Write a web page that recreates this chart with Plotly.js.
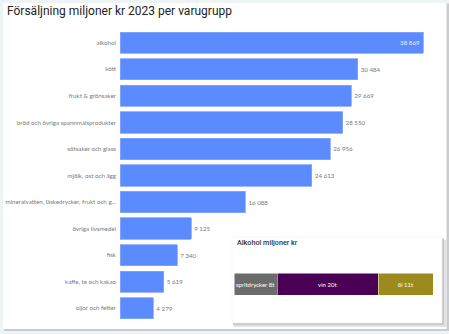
<!DOCTYPE html>
<html>
<head>
<meta charset="utf-8">
<script src="https://cdn.plot.ly/plotly-3.0.1.min.js"></script>
<style>
  html, body { margin: 0; padding: 0; background: #eef3f6; }
  #chart { width: 449px; height: 334px; }
</style>
</head>
<body>
<div id="chart"></div>
<script>
// ---- data ----
const categories = [
  "alkohol",
  "kött",
  "frukt & grönsaker",
  "bröd och övriga spannmålsprodukter",
  "sötsaker och glass",
  "mjölk, ost och ägg",
  "mineralvatten, läskedrycker, frukt och g...",
  "övriga livsmedel",
  "fisk",
  "kaffe, te och kakao",
  "oljor och fetter"
];
const sales = [38869, 30484, 29669, 28550, 26956, 24613, 16088, 9125, 7340, 5619, 4279];

const alcoholTypes = ["spritdrycker", "vin", "öl"];
const alcoholValues = [8.4, 19.8, 10.7];
const alcoholLabels = ["spritdrycker 8t", "vin 20t", "öl 11t"];
const alcoholColors = ["#6b6b6b", "#4a0055", "#9c8a1f"];

// ---- helpers ----
function fmt(v) { return String(v).replace(/\B(?=(\d{3})+(?!\d))/g, "\u00a0"); }
const maxV = Math.max(...sales);
const W = 449, H = 334;
const px = x => x / W;
const py = y => 1 - y / H;

const mainTrace = {
  type: "bar",
  orientation: "h",
  y: categories,
  x: sales,
  xaxis: "x", yaxis: "y",
  width: 0.8,
  marker: { color: "#5b8bff", line: { color: "#86a6ff", width: 0.8 } },
  text: sales.map(fmt),
  textposition: sales.map(v => v === maxV ? "inside" : "outside"),
  insidetextanchor: "end",
  constraintext: "none",
  insidetextfont: { color: "#e8eeff", size: 6.2, family: "Lato" },
  outsidetextfont: { color: "#7a7a7a", size: 6.2, family: "Lato" },
  cliponaxis: false,
  hoverinfo: "x+y"
};

const alcTraces = alcoholTypes.map((t, i) => ({
  type: "bar",
  orientation: "h",
  name: t,
  y: ["alkohol"],
  x: [alcoholValues[i]],
  xaxis: "x2", yaxis: "y2",
  width: 1,
  marker: { color: alcoholColors[i], line: { color: "#ffffff", width: 0.5 } },
  text: [alcoholLabels[i]],
  textposition: "inside",
  insidetextanchor: "middle",
  constraintext: "none",
  textangle: 0,
  insidetextfont: { color: "#ffffff", size: 6, family: "Lato" },
  hoverinfo: "name+x"
}));

const sumAlc = alcoholValues.reduce((a, b) => a + b, 0);

const layout = {
  width: W, height: H,
  margin: { l: 0, r: 0, t: 0, b: 0 },
  paper_bgcolor: "#eef3f6",
  plot_bgcolor: "rgba(0,0,0,0)",
  showlegend: false,
  barmode: "stack",
  font: { family: "Lato", color: "#666666" },
  xaxis: {
    domain: [px(120), px(440)],
    range: [0, maxV * 320 / 303],
    visible: false, fixedrange: true
  },
  yaxis: {
    domain: [py(321.5), py(29.5)],
    type: "category",
    autorange: "reversed",
    showgrid: false, zeroline: false, showline: false,
    ticks: "", ticklabelstandoff: 3,
    tickfont: { size: 6.2, color: "#7a7a7a", family: "Lato" },
    fixedrange: true
  },
  xaxis2: {
    domain: [px(234), px(433.3)],
    range: [0, sumAlc],
    anchor: "y2",
    visible: false, fixedrange: true
  },
  yaxis2: {
    domain: [py(295), py(273)],
    anchor: "x2",
    type: "category",
    visible: false, fixedrange: true
  },
  shapes: [
    { type: "rect", xref: "paper", yref: "paper", x0: px(4), x1: px(449), y0: py(331), y1: py(3.5),
      fillcolor: "#c9cccf", line: { width: 0 }, layer: "below" },
    { type: "rect", xref: "paper", yref: "paper", x0: px(3), x1: px(446.5), y0: py(329), y1: py(3),
      fillcolor: "#ffffff", line: { width: 0 }, layer: "below" },
    { type: "rect", xref: "paper", yref: "paper", x0: px(234), x1: px(446), y0: py(327), y1: py(240),
      fillcolor: "#e2e2e2", line: { width: 0 }, layer: "below" },
    { type: "rect", xref: "paper", yref: "paper", x0: px(233), x1: px(444), y0: py(325), y1: py(238.5),
      fillcolor: "#c8c8c8", line: { width: 0 }, layer: "below" },
    { type: "rect", xref: "paper", yref: "paper", x0: px(232), x1: px(442), y0: py(323), y1: py(237),
      fillcolor: "#ffffff", line: { color: "#eeeeee", width: 0.5 }, layer: "below" }
  ],
  annotations: [
    { xref: "paper", yref: "paper", x: px(5), y: py(11), xanchor: "left", yanchor: "middle",
      text: "Försäljning miljoner kr 2023 per varugrupp", showarrow: false,
      font: { family: "Roboto", size: 12, color: "#252423" } },
    { xref: "paper", yref: "paper", x: px(234.5), y: py(242.5), xanchor: "left", yanchor: "middle",
      text: "Alkohol miljoner kr", showarrow: false,
      font: { family: "Roboto", size: 7.2, weight: 500, color: "#333333" } }
  ]
};

Plotly.newPlot("chart", [mainTrace, ...alcTraces], layout, { displayModeBar: false, staticPlot: true });
</script>
</body>
</html>
